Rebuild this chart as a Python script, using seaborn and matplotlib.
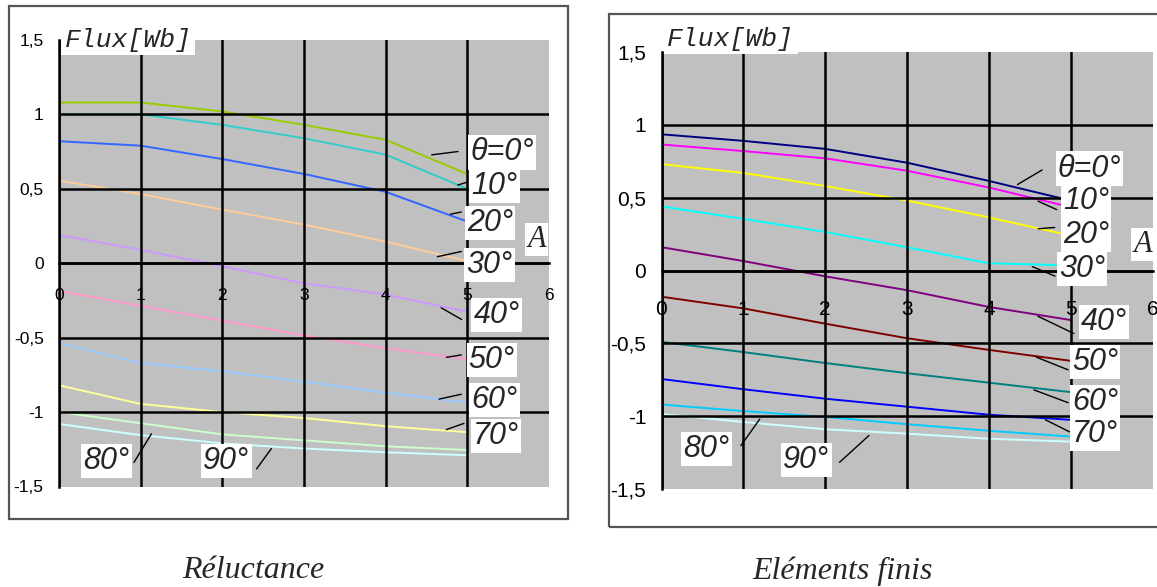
import numpy as np
import pandas as pd
import seaborn as sns
import matplotlib.pyplot as plt
from matplotlib.patches import Rectangle

sns.set_style('white')
plt.rcParams['font.family'] = ['Liberation Sans', 'DejaVu Sans']

# courant A (abscisse)
courant = [0, 1, 2, 3, 4, 5]
angles = [0, 10, 20, 30, 40, 50, 60, 70, 80, 90]
etiquettes = ['θ=0°', '10°', '20°', '30°', '40°', '50°', '60°', '70°', '80°', '90°']
yticks = [-1.5, -1, -0.5, 0, 0.5, 1, 1.5]
ytick_labels = ['-1,5', '-1', '-0,5', '0', '0,5', '1', '1,5']
xticks = [0, 1, 2, 3, 4, 5, 6]

# flux [Wb] - methode des reluctances
rel_00 = [1.08, 1.08, 1.02, 0.93, 0.83, 0.60]
rel_10 = [1.00, 1.00, 0.93, 0.84, 0.73, 0.50]
rel_20 = [0.82, 0.79, 0.70, 0.60, 0.48, 0.28]
rel_30 = [0.555, 0.465, 0.36, 0.26, 0.145, 0.015]
rel_40 = [0.19, 0.09, -0.02, -0.135, -0.21, -0.325]
rel_50 = [-0.185, -0.285, -0.385, -0.485, -0.57, -0.645]
rel_60 = [-0.535, -0.67, -0.725, -0.795, -0.87, -0.935]
rel_70 = [-0.82, -0.945, -1.0, -1.04, -1.095, -1.135]
rel_80 = [-1.0, -1.075, -1.15, -1.19, -1.23, -1.255]
rel_90 = [-1.08, -1.155, -1.21, -1.245, -1.27, -1.29]

# flux [Wb] - elements finis
ef_00 = [0.935, 0.89, 0.835, 0.74, 0.615, 0.48]
ef_10 = [0.865, 0.82, 0.77, 0.685, 0.57, 0.435]
ef_20 = [0.73, 0.67, 0.58, 0.48, 0.365, 0.24]
ef_30 = [0.44, 0.355, 0.265, 0.16, 0.05, 0.035]
ef_40 = [0.16, 0.065, -0.04, -0.135, -0.25, -0.34]
ef_50 = [-0.18, -0.26, -0.365, -0.465, -0.545, -0.62]
ef_60 = [-0.49, -0.56, -0.635, -0.705, -0.77, -0.835]
ef_70 = [-0.745, -0.815, -0.88, -0.935, -0.99, -1.025]
ef_80 = [-0.92, -0.965, -1.005, -1.055, -1.10, -1.14]
ef_90 = [-0.985, -1.04, -1.09, -1.12, -1.155, -1.175]

rel_couleurs = ['#99cc00', '#33cccc', '#3366ff', '#ffcc99', '#cc99ff',
                '#ff99cc', '#99ccff', '#ffff99', '#ccffcc', '#ccffff']
ef_couleurs = ['#000080', '#ff00ff', '#ffff00', '#00ffff', '#800080',
               '#800000', '#008080', '#0000ff', '#00ccff', '#ccffff']

# position des etiquettes et des traits de rappel (layout)
rel_pos = [(5.43, 0.745), (5.33, 0.52), (5.28, 0.27), (5.27, -0.01), (5.36, -0.35),
           (5.30, -0.65), (5.33, -0.92), (5.35, -1.16), (0.58, -1.33), (2.05, -1.33)]
rel_traits = [((4.53, 0.726), (4.92, 0.753)), ((4.85, 0.52), (5.03, 0.55)),
              ((4.76, 0.326), (4.96, 0.348)), ((4.60, 0.04), (4.96, 0.083)),
              ((4.65, -0.29), (4.96, -0.387)), ((4.71, -0.635), (4.96, -0.613)),
              ((4.62, -0.917), (4.96, -0.876)), ((4.71, -1.124), (4.99, -1.07)),
              ((0.90, -1.354), (1.15, -1.13)), ((2.40, -1.397), (2.62, -1.23))]
ef_pos = [(5.23, 0.70), (5.19, 0.475), (5.19, 0.247), (5.14, 0.01), (5.41, -0.356),
          (5.30, -0.626), (5.30, -0.903), (5.30, -1.12), (0.55, -1.223), (1.77, -1.30)]
ef_traits = [((4.32, 0.58), (4.68, 0.70)), ((4.57, 0.484), (4.86, 0.41)),
             ((4.57, 0.285), (4.84, 0.297)), ((4.50, 0.034), (4.84, -0.046)),
             ((4.57, -0.306), (5.07, -0.441)), ((4.55, -0.588), (5.00, -0.689)),
             ((4.52, -0.813), (5.00, -0.914)), ((4.66, -1.016), (5.02, -1.117)),
             ((0.95, -1.218), (1.22, -1.005)), ((2.15, -1.33), (2.56, -1.12))]


def tableau(series):
    rows = []
    for ang, vals in zip(angles, series):
        for a, f in zip(courant, vals):
            rows.append({'A': a, 'flux': f, 'angle': ang})
    return pd.DataFrame(rows)


df_rel = tableau([rel_00, rel_10, rel_20, rel_30, rel_40, rel_50, rel_60, rel_70, rel_80, rel_90])
df_ef = tableau([ef_00, ef_10, ef_20, ef_30, ef_40, ef_50, ef_60, ef_70, ef_80, ef_90])

W, H = 1157, 587
fig = plt.figure(figsize=(W / 100, H / 100), dpi=100)

# cadres
fig.patches.append(Rectangle((9 / W, 1 - 519 / H), 559 / W, 513 / H, transform=fig.transFigure,
                             fill=False, ec='#555555', lw=1.6))
fig.patches.append(Rectangle((609 / W, 1 - 527 / H), 560 / W, 513 / H, transform=fig.transFigure,
                             fill=False, ec='#555555', lw=1.6))

ax1 = fig.add_axes([59 / W, 1 - 486.5 / H, 490 / W, 446.5 / H])
ax2 = fig.add_axes([661.5 / W, 1 - 489 / H, 491 / W, 437 / H])


def dessine(ax, df, couleurs, pos, traits, tsize, xpad, flux_y, a_pos):
    ax.set_facecolor('#c0c0c0')
    sns.lineplot(data=df, x='A', y='flux', hue='angle', hue_order=angles,
                 palette=dict(zip(angles, couleurs)), legend=False, ax=ax, lw=1.4, sort=False)
    ax.spines['bottom'].set_position(('data', 0))
    ax.set_xlim(0, 6)
    ax.set_ylim(-1.5, 1.5)
    ax.set_xlabel('')
    ax.set_ylabel('')
    ax.set_xticks(xticks)
    ax.set_xticklabels([str(t) for t in xticks])
    ax.set_yticks(yticks)
    ax.set_yticklabels(ytick_labels)
    for s in ['top', 'right']:
        ax.spines[s].set_visible(False)
    for s in ['left', 'bottom']:
        ax.spines[s].set_color('black')
        ax.spines[s].set_linewidth(1.8)
    ax.tick_params(axis='x', direction='out', length=5, width=1.5, pad=xpad,
                   labelsize=tsize, labelcolor='black', color='black')
    ax.tick_params(axis='y', direction='out', length=6, width=1.5, pad=5,
                   labelsize=tsize, labelcolor='black', color='black')
    ax.set_axisbelow(False)
    ax.grid(True, color='black', lw=1.8)
    ax.get_xgridlines()[-1].set_visible(False)
    ax.get_ygridlines()[0].set_visible(False)
    ax.get_ygridlines()[-1].set_visible(False)

    for txt, (x, y), (p1, p2) in zip(etiquettes, pos, traits):
        ax.annotate('', xy=p2, xytext=p1, arrowprops=dict(arrowstyle='-', color='black', lw=1.0),
                    annotation_clip=False, zorder=6)
        ax.text(x, y, txt, fontsize=22, style='italic', ha='center', va='center', zorder=7,
                bbox=dict(fc='white', ec='none', pad=1.5), clip_on=False)

    ax.text(0.07, flux_y, 'Flux[Wb]', family=['Liberation Mono', 'DejaVu Sans Mono'], style='italic',
            fontsize=19, ha='left', va='center', zorder=7, clip_on=False,
            bbox=dict(fc='white', ec='none', pad=2.5))
    ax.text(a_pos[0], a_pos[1], 'A', family=['Liberation Serif', 'DejaVu Serif'], style='italic',
            fontsize=22, ha='center', va='center', zorder=7, clip_on=False,
            bbox=dict(fc='white', ec='none', pad=1.5))


dessine(ax1, df_rel, rel_couleurs, rel_pos, rel_traits, 12.5, 13, 1.5, (5.85, 0.16))
dessine(ax2, df_ef, ef_couleurs, ef_pos, ef_traits, 15, 16, 1.59, (5.88, 0.18))

fig.text(253 / W, 1 - 571 / H, 'Réluctance', family=['Liberation Serif', 'DejaVu Serif'],
         style='italic', fontsize=23, ha='center', va='center')
fig.text(843 / W, 1 - 571 / H, 'Eléments finis', family=['Liberation Serif', 'DejaVu Serif'],
         style='italic', fontsize=23, ha='center', va='center')

fig.savefig('out.png', dpi=100)
